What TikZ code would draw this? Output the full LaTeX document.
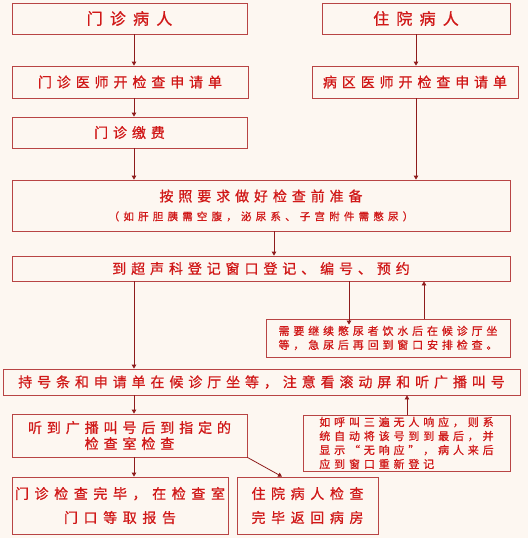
\documentclass[tikz,border=0pt]{standalone}
\usepackage{fontspec}
\setmainfont[LetterSpace=35, FakeBold=0.8]{Noto Sans CJK SC}
\usetikzlibrary{arrows.meta}

\definecolor{bgcream}{HTML}{FDF7F1}
\definecolor{boxred}{HTML}{B84444}
\definecolor{txtred}{HTML}{D01818}
\definecolor{arrred}{HTML}{8E1C1C}

\begin{document}
\begin{tikzpicture}[
  x=1pt, y=-1pt,
  font=\fontsize{14}{16}\selectfont,
  box/.style={draw=boxred, line width=0.8pt, text=txtred, rectangle, inner sep=0pt, align=center},
  titlebox/.style={box, font=\fontsize{16}{18}\selectfont\addfontfeature{LetterSpace=45}},
  notebox/.style={box, align=left, font=\fontsize{11}{14}\selectfont},
  endbox/.style={box, font=\fontsize{14}{24}\selectfont\addfontfeature{LetterSpace=40}},
  arr/.style={draw=arrred, line width=0.8pt, -{Triangle[length=4pt,width=4.5pt]}}
]
  \fill[bgcream] (0,0) rectangle (528,538);
  \useasboundingbox (0,0) rectangle (528,538);

  % columns of the arrows
  \coordinate (colL) at (134,0);
  \coordinate (colR) at (416,0);

  % patients
  \node[titlebox, minimum width=235, minimum height=31] (outpat) at (129.5,18.5) {门诊病人};
  \node[titlebox, minimum width=188, minimum height=31] (inpat) at (416,18.5) {住院病人};

  % requests and payment
  \node[box, minimum width=236, minimum height=32] (outdoc) at (130,82) {门诊医师开检查申请单};
  \node[box, minimum width=206, minimum height=32] (indoc) at (415,82) {病区医师开检查申请单};
  \node[box, minimum width=235, minimum height=31] (pay) at (129.5,132.5) {门诊缴费};

  % preparation and registration
  \node[box, minimum width=498, minimum height=51] (prep) at (261,205.5)
    {按照要求做好检查前准备\\[3pt]{\fontsize{10.5}{12}\selectfont\addfontfeature{LetterSpace=40}（如肝胆胰需空腹，泌尿系、子宫附件需憋尿）}};
  \node[box, minimum width=498, minimum height=25] (reg) at (261,268.5) {到超声科登记窗口登记、编号、预约};
  \node[notebox, minimum width=244, minimum height=38] (drink) at (388,338)
    {需要继续憋尿者饮水后在候诊厅坐\\等，急尿后再回到窗口安排检查。};

  % waiting and call
  \node[box, minimum width=517, minimum height=26] (wait) at (261.5,382) {持号条和申请单在候诊厅坐等，注意看滚动屏和听广播叫号};
  \node[box, minimum width=235, minimum height=43] (call) at (129.5,435.5) {听到广播叫号后到指定的\\检查室检查};
  \node[notebox, minimum width=207, minimum height=56] (noresp) at (406.5,443)
    {如呼叫三遍无人响应，则系\\统自动将该号到到最后，并\\显示“无响应”，病人来后\\应到窗口重新登记};

  % results
  \node[endbox, minimum width=216, minimum height=57] (outdone) at (120,505.5)
    {门诊检查完毕，在检查室\\门口等取报告};
  \node[endbox, minimum width=141, minimum height=57] (indone) at (307.5,505.5)
    {住院病人检查\\完毕返回病房};

  % connectors
  \draw[arr] (outpat.south -| colL) -- (outdoc.north -| colL);
  \draw[arr] (inpat.south) -- (indoc.north -| inpat.south);
  \draw[arr] (outdoc.south -| colL) -- (pay.north -| colL);
  \draw[arr] (pay.south -| colL) -- (prep.north -| colL);
  \draw[arr] (indoc.south -| colR) -- (prep.north -| colR);
  \draw[arr] ([xshift=13pt]prep.south) -- ([xshift=13pt]reg.north);
  \draw[arr] (reg.south -| 349,0) -- ([yshift=-6pt]drink.north -| 349,0);
  \draw[arr] (drink.north -| 424,0) -- (reg.south -| 424,0);
  \draw[arr] (reg.south -| colL) -- (wait.north -| colL);
  \draw[arr] (wait.south -| colL) -- (call.north -| colL);
  \draw[arr] (noresp.north -| 407,0) -- (wait.south -| 407,0);
  \draw[arr] (call.south -| colL) -- (outdone.north -| colL);
  \draw[arr] (call.south east) -- (indone.north -| 282,0);
\end{tikzpicture}
\end{document}
